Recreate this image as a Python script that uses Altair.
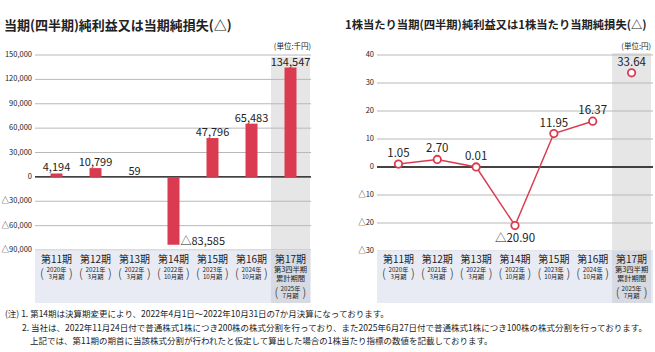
import altair as alt
import pandas as pd

# ---------------- data ----------------
periods = ["第11期", "第12期", "第13期", "第14期", "第15期", "第16期", "第17期"]
sub_labels = ["2020年\n3月期", "2021年\n3月期", "2022年\n3月期", "2022年\n10月期",
              "2023年\n10月期", "2024年\n10月期", "2025年\n7月期"]
q3_label = "第3四半期\n累計期間"

net_income = [4194, 10799, 59, -83585, 47796, 65483, 134547]
net_income_labels = ["4,194", "10,799", "59", "△83,585", "47,796", "65,483", "134,547"]

eps = [1.05, 2.70, 0.01, -20.90, 11.95, 16.37, 33.64]
eps_labels = ["1.05", "2.70", "0.01", "△20.90", "11.95", "16.37", "33.64"]
eps_connected = [True, True, True, True, True, True, False]

income_ticks = [150000, 120000, 90000, 60000, 30000, 0, -30000, -60000, -90000]
income_tick_labels = ["150,000", "120,000", "90,000", "60,000", "30,000", "0",
                      "△30,000", "△60,000", "△90,000"]
eps_ticks = [40, 30, 20, 10, 0, -10, -20, -30]
eps_tick_labels = ["40", "30", "20", "10", "0", "△10", "△20", "△30"]

title_left = "当期(四半期)純利益又は当期純損失(△)"
title_right = "1株当たり当期(四半期)純利益又は1株当たり当期純損失(△)"
unit_left = "(単位:千円)"
unit_right = "(単位:円)"
notes = [
    "(注) 1. 第14期は決算期変更により、2022年4月1日～2022年10月31日の7か月決算になっております。",
    "2. 当社は、2022年11月24日付で普通株式1株につき200株の株式分割を行っており、また2025年6月27日付で普通株式1株につき100株の株式分割を行っております。",
    "上記では、第11期の期首に当該株式分割が行われたと仮定して算出した場合の1株当たり指標の数値を記載しております。",
]

# ---------------- tables ----------------
df = pd.DataFrame({
    "period": periods,
    "sub": sub_labels,
    "income": net_income,
    "income_label": net_income_labels,
    "eps": eps,
    "eps_label": eps_labels,
    "connected": eps_connected,
    "idx": list(range(len(periods))),
})
ticks_l = pd.DataFrame({"v": income_ticks, "lab": income_tick_labels})
ticks_r = pd.DataFrame({"v": eps_ticks, "lab": eps_tick_labels})
one = pd.DataFrame({"a": [0]})
notes_df = pd.DataFrame({"t": notes, "i": list(range(len(notes)))})

FONT = "Noto Sans CJK JP"
RED = "#db3b50"
GRID = "#b8b8b8"
BAND = "#e8ebf4"
BAND17 = "#d7dae1"
SHADE = "#e6e6e6"
TXT = "#222222"

def panel(xrange, ydomain, yrange, yfield, xl, xr, shade_top, tick_df, tick_x, unit, unit_x):
    xs = alt.Scale(domain=periods, range=xrange, paddingInner=0, paddingOuter=0)
    ys = alt.Scale(domain=ydomain, range=yrange, nice=False, zero=False)
    X = alt.X("period:N", scale=xs, axis=None)
    base = alt.Chart(df)
    last = base.transform_filter(alt.datum.idx == 6)
    first6 = base.transform_filter(alt.datum.idx < 6)

    shade = last.mark_rect(color=SHADE).encode(
        x=X, y=alt.value(shade_top), y2=alt.value(250))
    grid = alt.Chart(tick_df).mark_rule(color=GRID, strokeWidth=1).encode(
        y=alt.Y("v:Q", scale=ys, axis=None), x=alt.value(xl), x2=alt.value(xr))
    zero = alt.Chart(tick_df).transform_filter(alt.datum.v == 0).mark_rule(
        color="#111111", strokeWidth=1.3).encode(
        y=alt.Y("v:Q", scale=ys, axis=None), x=alt.value(xl), x2=alt.value(xr))
    ticklab = alt.Chart(tick_df).mark_text(
        font=FONT, fontSize=7.5, align="right", baseline="middle", color=TXT).encode(
        y=alt.Y("v:Q", scale=ys, axis=None), x=alt.value(tick_x), text="lab:N")
    band_bg = alt.Chart(one).mark_rect(color=BAND).encode(
        x=alt.value(xl), x2=alt.value(xr), y=alt.value(250.5), y2=alt.value(303))
    band_last = last.mark_rect(color=BAND17).encode(
        x=X, y=alt.value(250.5), y2=alt.value(303))
    period_lab = base.mark_text(
        font=FONT, fontSize=10, baseline="middle", color=TXT).encode(
        x=X, y=alt.value(259.5), text="period:N")
    sub6 = first6.mark_text(
        font=FONT, fontSize=6.2, baseline="middle", lineBreak="\n", lineHeight=7.2,
        color=TXT).encode(x=X, y=alt.value(270), text="sub:N")
    sub7 = last.mark_text(
        font=FONT, fontSize=6.2, baseline="middle", lineBreak="\n", lineHeight=7.2,
        color=TXT).encode(x=X, y=alt.value(288.5), text="sub:N")
    q3 = last.mark_text(
        font=FONT, fontSize=7.3, baseline="middle", lineBreak="\n", lineHeight=9,
        color=TXT).encode(x=X, y=alt.value(270), text=alt.value(q3_label))
    pk = dict(font=FONT, fontSize=12, fontWeight=300, baseline="middle", color=TXT)
    lp6 = first6.mark_text(dx=-14.5, **pk).encode(
        x=X, y=alt.value(274), text=alt.value("("))
    rp6 = first6.mark_text(dx=14.5, **pk).encode(
        x=X, y=alt.value(274), text=alt.value(")"))
    lp7 = last.mark_text(dx=-14, **pk).encode(
        x=X, y=alt.value(292.5), text=alt.value("("))
    rp7 = last.mark_text(dx=14, **pk).encode(
        x=X, y=alt.value(292.5), text=alt.value(")"))
    unit_t = alt.Chart(one).mark_text(font=FONT, fontSize=7.5, align="right",
                                      baseline="middle", color=TXT).encode(
        x=alt.value(unit_x), y=alt.value(47), text=alt.value(unit))
    Y = alt.Y(f"{yfield}:Q", scale=ys, axis=None)
    layers = [shade, grid, band_bg, band_last, zero, ticklab, period_lab, sub6, sub7,
              q3, lp6, rp6, lp7, rp7, unit_t]
    return X, Y, base, layers

# ---------- left: net income bars ----------
XL, YL, baseL, layersL = panel([37, 310], [-90000, 150000], [250, 55], "income",
                               35, 311, 57, ticks_l, 32, unit_left, 311)
bars = baseL.mark_bar(color=RED, size=12).encode(x=XL, y=YL)
pos_lab = baseL.transform_filter(alt.datum.income >= 0).mark_text(
    font=FONT, fontSize=11, baseline="alphabetic", dy=-2, color=TXT).encode(
    x=XL, y=YL, text="income_label:N")
neg_lab = baseL.transform_filter(alt.datum.income < 0).mark_text(
    font=FONT, fontSize=11, baseline="alphabetic", align="left", dx=7, dy=0,
    color=TXT).encode(x=XL, y=YL, text="income_label:N")
left = alt.layer(*layersL, bars, pos_lab, neg_lab)

# ---------- right: EPS line ----------
XR, YR, baseR, layersR = panel([379, 651], [-30, 40], [251, 55], "eps",
                               377, 653, 53, ticks_r, 374, unit_right, 651)
line = baseR.transform_filter(alt.datum.connected).mark_line(
    color=RED, strokeWidth=1.5).encode(x=XR, y=YR, order="idx:Q")
pts = baseR.mark_point(shape="circle", size=55, filled=True, fill="white",
                       stroke=RED, strokeWidth=1.8, opacity=1).encode(x=XR, y=YR)
pos_lab_r = baseR.transform_filter(alt.datum.eps >= 0).mark_text(
    font=FONT, fontSize=11.5, baseline="alphabetic", dy=-7, color=TXT).encode(
    x=XR, y=YR, text="eps_label:N")
neg_lab_r = baseR.transform_filter(alt.datum.eps < 0).mark_text(
    font=FONT, fontSize=11.5, baseline="alphabetic", dy=16, color=TXT).encode(
    x=XR, y=YR, text="eps_label:N")
right = alt.layer(*layersR, line, pts, pos_lab_r, neg_lab_r)

# ---------- titles & notes ----------
t_left = alt.Chart(one).mark_text(font=FONT, fontSize=13, fontWeight="bold",
                                  align="left", baseline="middle", color=TXT).encode(
    x=alt.value(4), y=alt.value(26), text=alt.value(title_left))
t_right = alt.Chart(one).mark_text(font=FONT, fontSize=11.3, fontWeight="bold",
                                   align="left", baseline="middle", color=TXT).encode(
    x=alt.value(345), y=alt.value(26), text=alt.value(title_right))
nk = dict(font=FONT, fontSize=8.5, align="left", baseline="middle", color=TXT)
note1 = alt.Chart(notes_df).transform_filter(alt.datum.i == 0).mark_text(**nk).encode(
    x=alt.value(5), y=alt.value(314), text="t:N")
note2 = alt.Chart(notes_df).transform_filter(alt.datum.i == 1).mark_text(**nk).encode(
    x=alt.value(22), y=alt.value(327.5), text="t:N")
note3 = alt.Chart(notes_df).transform_filter(alt.datum.i == 2).mark_text(**nk).encode(
    x=alt.value(30), y=alt.value(341), text="t:N")
texts = alt.layer(t_left, t_right, note1, note2, note3)

chart = alt.layer(left, right, texts).resolve_scale(
    x="independent", y="independent"
).properties(
    width=655, height=352, padding=0, autosize="none", background="white"
).configure_view(stroke=None)

chart.save("out.html", embed_options={"renderer": "svg", "actions": False})
